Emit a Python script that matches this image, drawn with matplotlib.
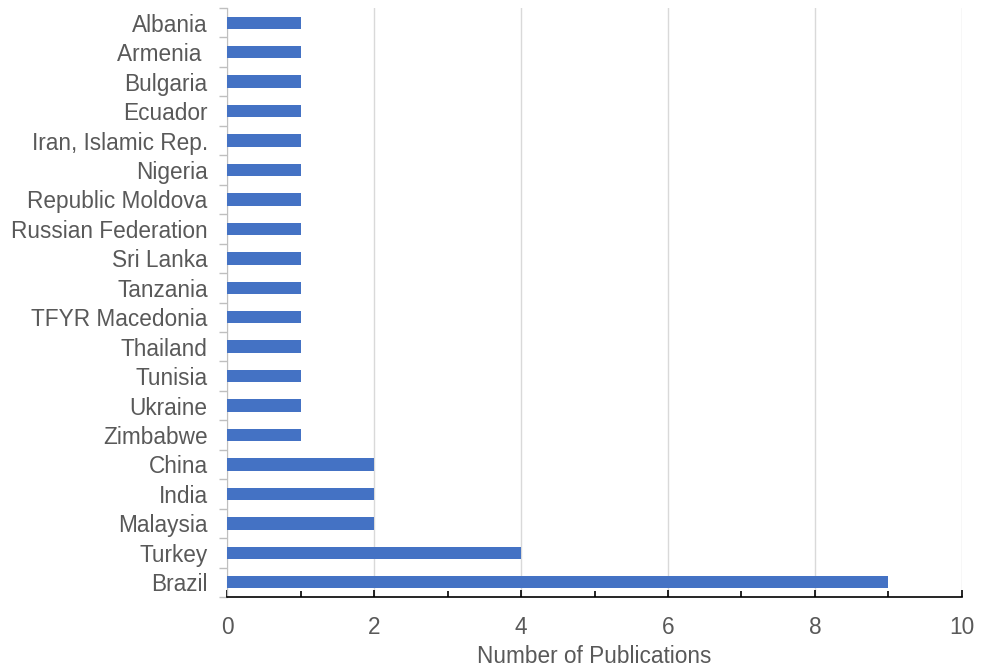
import matplotlib.pyplot as plt
from matplotlib.ticker import MultipleLocator, FixedLocator

countries = ["Albania", "Armenia ", "Bulgaria", "Ecuador", "Iran, Islamic Rep.",
             "Nigeria", "Republic Moldova", "Russian Federation", "Sri Lanka",
             "Tanzania", "TFYR Macedonia", "Thailand", "Tunisia", "Ukraine",
             "Zimbabwe", "China", "India", "Malaysia", "Turkey", "Brazil"]
publications = [1, 1, 1, 1, 1, 1, 1, 1, 1, 1, 1, 1, 1, 1, 1, 2, 2, 2, 4, 9]

plt.rcParams['font.family'] = ['Liberation Sans', 'DejaVu Sans']
text_color = '#595959'
fs = 16.3

fig = plt.figure(figsize=(9.83, 6.68), dpi=100)
ax = fig.add_axes([0.231, 0.1063, 0.7476, 0.8817])

ypos = list(range(len(countries)))
ax.barh(ypos, publications, height=0.42, color='#4472C4', zorder=3)

ax.set_ylim(len(countries) - 0.5, -0.5)
ax.set_xlim(0, 10)

# x axis: black line, inward ticks, grid on the even values
ax.xaxis.set_major_locator(MultipleLocator(2))
ax.xaxis.set_minor_locator(MultipleLocator(1))
ax.tick_params(axis='x', which='major', direction='in', length=5, width=1.2,
               color='black', labelsize=fs, labelcolor=text_color, pad=14)
ax.tick_params(axis='x', which='minor', direction='in', length=4, width=1.2,
               color='black')
ax.grid(axis='x', which='major', color='#d9d9d9', linewidth=1, zorder=0)

# y axis: category labels, gray separators between rows
ax.set_yticks(ypos)
ax.set_yticklabels(countries)
ax.yaxis.set_minor_locator(FixedLocator([i + 0.5 for i in range(-1, len(countries))]))
ax.tick_params(axis='y', which='major', length=0, labelsize=fs,
               labelcolor=text_color, pad=14)
ax.tick_params(axis='y', which='minor', direction='out', length=6, width=1,
               color='#bfbfbf')

for side in ('top', 'right'):
    ax.spines[side].set_visible(False)
ax.spines['bottom'].set_color('black')
ax.spines['bottom'].set_linewidth(1.2)
ax.spines['left'].set_color('#bfbfbf')

ax.set_xlabel("Number of Publications", fontsize=fs, color=text_color, labelpad=4)

fig.savefig("out.png", dpi=100)
